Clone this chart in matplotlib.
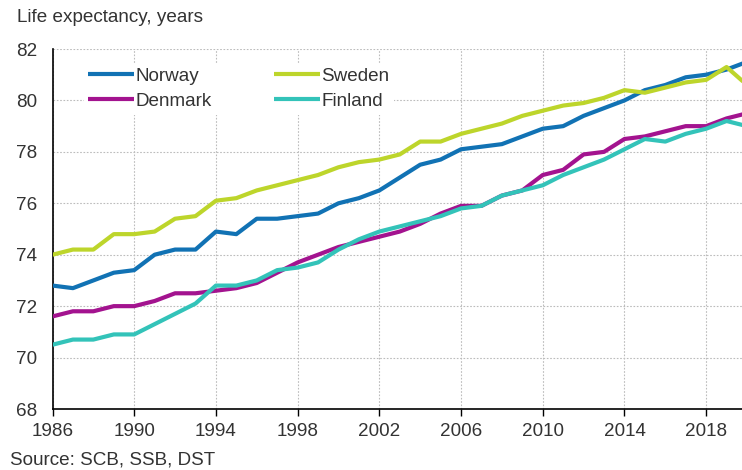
import matplotlib
matplotlib.use("Agg")
import matplotlib.pyplot as plt

# Life expectancy at birth, males
years = list(range(1986, 2021))
norway = [72.8, 72.7, 73.0, 73.3, 73.4, 74.0, 74.2, 74.2, 74.9, 74.8,
          75.4, 75.4, 75.5, 75.6, 76.0, 76.2, 76.5, 77.0, 77.5, 77.7,
          78.1, 78.2, 78.3, 78.6, 78.9, 79.0, 79.4, 79.7, 80.0, 80.4,
          80.6, 80.9, 81.0, 81.2, 81.5]
sweden = [74.0, 74.2, 74.2, 74.8, 74.8, 74.9, 75.4, 75.5, 76.1, 76.2,
          76.5, 76.7, 76.9, 77.1, 77.4, 77.6, 77.7, 77.9, 78.4, 78.4,
          78.7, 78.9, 79.1, 79.4, 79.6, 79.8, 79.9, 80.1, 80.4, 80.3,
          80.5, 80.7, 80.8, 81.3, 80.6]
denmark = [71.6, 71.8, 71.8, 72.0, 72.0, 72.2, 72.5, 72.5, 72.6, 72.7,
           72.9, 73.3, 73.7, 74.0, 74.3, 74.5, 74.7, 74.9, 75.2, 75.6,
           75.9, 75.9, 76.3, 76.5, 77.1, 77.3, 77.9, 78.0, 78.5, 78.6,
           78.8, 79.0, 79.0, 79.3, 79.5]
finland = [70.5, 70.7, 70.7, 70.9, 70.9, 71.3, 71.7, 72.1, 72.8, 72.8,
           73.0, 73.4, 73.5, 73.7, 74.2, 74.6, 74.9, 75.1, 75.3, 75.5,
           75.8, 75.9, 76.3, 76.5, 76.7, 77.1, 77.4, 77.7, 78.1, 78.5,
           78.4, 78.7, 78.9, 79.2, 79.0]

x_ticks = list(range(1986, 2020, 4))
y_ticks = list(range(68, 83, 2))

plt.rcParams["font.family"] = ["Liberation Sans", "DejaVu Sans"]
text_color = "#333333"
fs = 13.6

fig = plt.figure(figsize=(7.42, 4.70), dpi=100)
ax = fig.add_axes([52.5 / 742, 61 / 470, (747 - 52.5) / 742, (409 - 49) / 470])

series = [
    ("Norway", norway, "#1172b4"),
    ("Denmark", denmark, "#a3138f"),
    ("Sweden", sweden, "#bdd52b"),
    ("Finland", finland, "#33c3b9"),
]
for name, vals, color in series:
    ax.plot(years, vals, color=color, lw=3.0, label=name,
            solid_capstyle="butt", solid_joinstyle="round", zorder=3)

ax.set_xlim(1986, 2020)
ax.set_ylim(68, 82)
ax.set_xticks(x_ticks)
ax.set_yticks(y_ticks)
ax.grid(True, color="#bcbcbc", linestyle=(0, (1.5, 1.5)), linewidth=0.8, zorder=0)
ax.set_axisbelow(True)

for side in ("top", "right"):
    ax.spines[side].set_visible(False)
for side in ("left", "bottom"):
    ax.spines[side].set_color("black")
    ax.spines[side].set_linewidth(1.2)

ax.tick_params(axis="x", length=5, width=1, color="black", pad=5,
               labelsize=fs, labelcolor=text_color)
ax.tick_params(axis="y", length=0, pad=11, labelsize=fs, labelcolor=text_color)

leg = ax.legend(ncol=2, loc="upper left", bbox_to_anchor=(0.045, 0.962),
                frameon=True, facecolor="white", edgecolor="none", framealpha=1,
                fontsize=fs, handlelength=2.4, handletextpad=0.1,
                columnspacing=3.3, labelspacing=0.42, borderpad=0.25,
                borderaxespad=0)
for t in leg.get_texts():
    t.set_color(text_color)
leg.set_zorder(2)

fig.text(17 / 742, 1 - 17 / 470, "Life expectancy, years", fontsize=fs,
         color=text_color, va="center", ha="left")
fig.text(10 / 742, 1 - 460 / 470, "Source: SCB, SSB, DST", fontsize=fs,
         color=text_color, va="center", ha="left")

fig.savefig("out.png", dpi=100)
